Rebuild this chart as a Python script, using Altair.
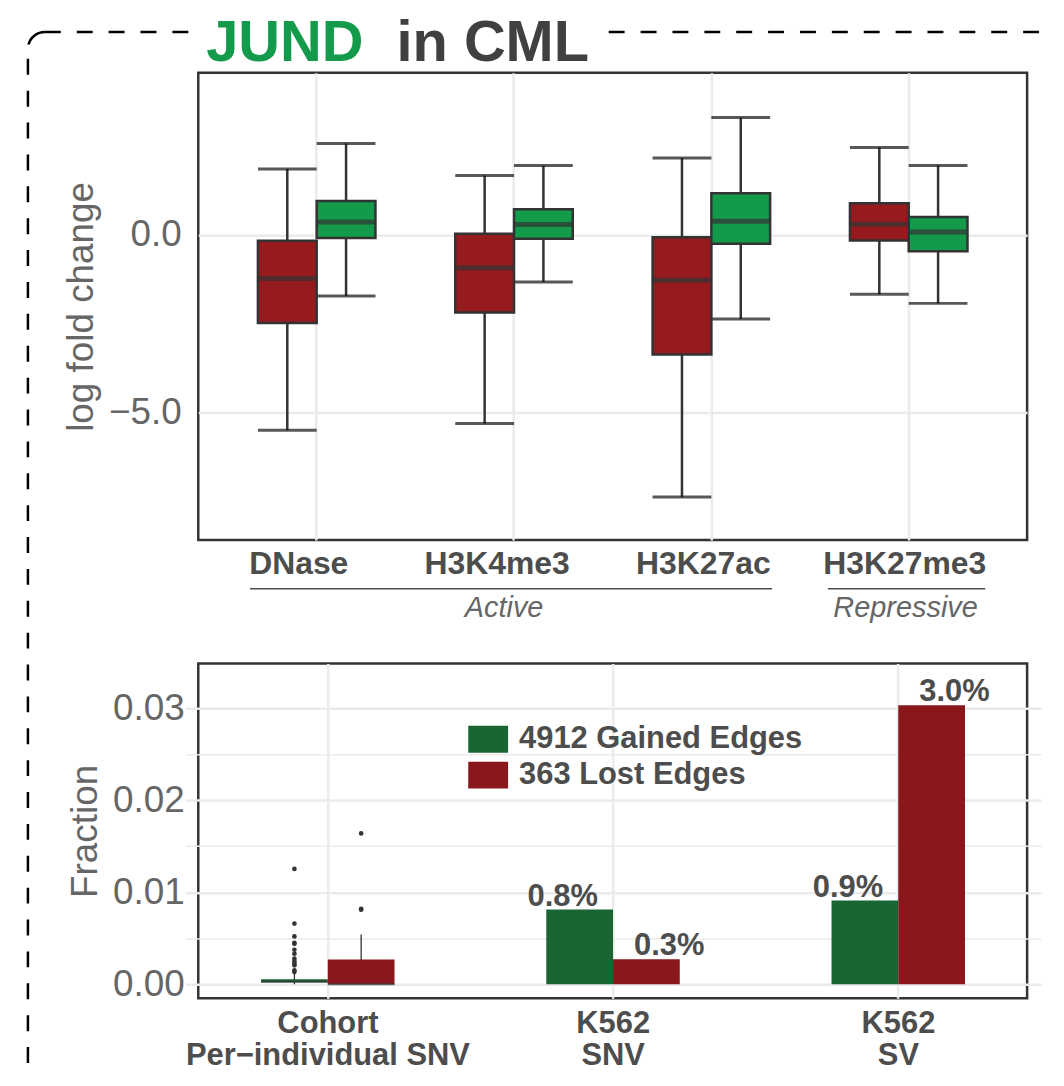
import altair as alt
import pandas as pd

FONT = "Liberation Sans"

# ---------------- top panel: box statistics ----------------
top_marks = ["DNase", "H3K4me3", "H3K27ac", "H3K27me3"]
top_groups = ["Lost", "Gained"]
lost_low = [-5.50, -5.31, -7.38, -1.67]
lost_q1 = [-2.48, -2.19, -3.37, -0.16]
lost_med = [-1.23, -0.93, -1.28, 0.30]
lost_q3 = [-0.17, 0.03, -0.07, 0.89]
lost_high = [1.85, 1.67, 2.16, 2.46]
gained_low = [-1.72, -1.33, -2.37, -1.93]
gained_q1 = [-0.09, -0.11, -0.25, -0.46]
gained_med = [0.36, 0.29, 0.38, 0.08]
gained_q3 = [0.95, 0.72, 1.17, 0.50]
gained_high = [2.57, 1.95, 3.30, 1.95]
top_y_ticks = [-5.0, 0.0]
top_y_domain = [-8.59, 4.56]
mark_groups = ["Active", "Repressive"]
title_parts = ["JUND", "in CML"]

# ---------------- bottom panel ----------------
bottom_cats = ["Cohort|Per\u2212individual SNV", "K562|SNV", "K562|SV"]
series = ["4912 Gained Edges", "363 Lost Edges"]
k562_cats = ["K562|SNV", "K562|SV"]
k562_gained = [0.00812, 0.0091]
k562_lost = [0.00271, 0.03033]
# low, q1, median, q3, high
cohort_gained_box = [0.0, 0.00018, 0.0003, 0.00054, 0.0012]
cohort_lost_box = [0.0, 0.0, 0.0, 0.0027, 0.0054]
cohort_gained_outliers = [0.01254, 0.0066, 0.0052, 0.00451, 0.0044, 0.00375, 0.00332,
                          0.00278, 0.00249, 0.00224, 0.00206, 0.00152, 0.00133]
cohort_lost_outliers = [0.0164, 0.0082, 0.0081]
bottom_y_ticks = [0.0, 0.005, 0.01, 0.015, 0.02, 0.025, 0.03]
bottom_y_domain = [-0.00152, 0.03487]

TOP_RED, TOP_GREEN = "#951b1f", "#139a4a"
BOT_GREEN, BOT_RED = "#196533", "#8a171b"
W, HT, HB = 832, 469, 336

# ---------------- tables ----------------
rows = []
for i, m in enumerate(top_marks):
    rows.append(dict(mark=m, grp="Lost", low=lost_low[i], q1=lost_q1[i], med=lost_med[i],
                     q3=lost_q3[i], high=lost_high[i]))
    rows.append(dict(mark=m, grp="Gained", low=gained_low[i], q1=gained_q1[i], med=gained_med[i],
                     q3=gained_q3[i], high=gained_high[i]))
top_df = pd.DataFrame(rows)

top_label_shift = {"condition": [{"test": "datum.value == 'DNase'", "value": -18},
                                 {"test": "datum.value == 'H3K4me3'", "value": -17},
                                 {"test": "datum.value == 'H3K27ac'", "value": -8}],
                   "value": -4}


def xt():
    return alt.X("mark:N", title=None,
                 scale=alt.Scale(domain=top_marks, paddingInner=0, paddingOuter=0.1),
                 axis=alt.Axis(labelFont=FONT, labelFontSize=32, labelFontWeight="bold",
                               labelColor="#4d4d4d", labelPadding=9, labelAngle=0,
                               labelOffset=top_label_shift,
                               grid=True, bandPosition=0.5))


def xot():
    return alt.XOffset("grp:N", scale=alt.Scale(domain=top_groups, paddingInner=0, paddingOuter=0.679))


def yt(field):
    return alt.Y(field, type="quantitative", title="log fold change",
                 scale=alt.Scale(domain=top_y_domain, nice=False, zero=False),
                 axis=alt.Axis(values=top_y_ticks, format=".1f", labelFontSize=37,
                               labelColor="#666666", titleFontSize=37, titleColor="#666666",
                               titleFontWeight="normal", labelPadding=17, titlePadding=8,
                               grid=True))


tb = alt.Chart(top_df)
whisk = tb.mark_rule(color="#333333", strokeWidth=2.5).encode(
    x=xt(), xOffset=xot(), y=yt("low"), y2="high:Q")
cap_lo = tb.mark_tick(color="#111111", size=59, thickness=3).encode(
    x=xt(), xOffset=xot(), y=yt("low"))
cap_hi = tb.mark_tick(color="#111111", size=59, thickness=3).encode(
    x=xt(), xOffset=xot(), y=yt("high"))
box = tb.mark_bar(stroke="#333333", strokeWidth=2.5).encode(
    x=xt(), xOffset=xot(), y=yt("q1"), y2="q3:Q",
    color=alt.Color("grp:N", scale=alt.Scale(domain=top_groups, range=[TOP_RED, TOP_GREEN]),
                    legend=None))
med = tb.mark_tick(color="#333333", size=59, thickness=5).encode(
    x=xt(), xOffset=xot(), y=yt("med"))

one = alt.Chart(pd.DataFrame({"k": [0]}))
dash = dict(color="black", strokeWidth=2.5, strokeDash=[16, 16])
t1 = one.mark_text(text=title_parts[0], font=FONT, fontSize=58, fontWeight="bold",
                   color="#139a4a", align="left", baseline="alphabetic").encode(
    x=alt.value(8), y=alt.value(-12))
t2 = one.mark_text(text=title_parts[1], font=FONT, fontSize=58, fontWeight="bold",
                   color="#404040", align="left", baseline="alphabetic").encode(
    x=alt.value(199), y=alt.value(-12))
d_top_l = one.mark_rule(**dash).encode(x=alt.value(-154), x2=alt.value(-9), y=alt.value(-41))
d_top_r = one.mark_rule(**dash).encode(x=alt.value(412), x2=alt.value(855), y=alt.value(-41))
d_left = one.mark_rule(**dash).encode(x=alt.value(-171), y=alt.value(-14), y2=alt.value(1000))
d_arc = one.mark_arc(radius=17, radius2=17, theta=6.2832, theta2=4.7124, fillOpacity=0,
                     stroke="black", strokeWidth=2.5, strokeDash=[22, 100]).encode(
    x=alt.value(-154), y=alt.value(-24))
u_act = one.mark_rule(color="#4d4d4d", strokeWidth=1.5).encode(
    x=alt.value(52), x2=alt.value(576), y=alt.value(518))
u_rep = one.mark_rule(color="#4d4d4d", strokeWidth=1.5).encode(
    x=alt.value(632), x2=alt.value(790), y=alt.value(518))
g_act = one.mark_text(text=mark_groups[0], font=FONT, fontSize=29, fontStyle="italic",
                      color="#666666", align="center", baseline="alphabetic").encode(
    x=alt.value(307), y=alt.value(546))
g_rep = one.mark_text(text=mark_groups[1], font=FONT, fontSize=29, fontStyle="italic",
                      color="#666666", align="center", baseline="alphabetic").encode(
    x=alt.value(710), y=alt.value(546))

top = alt.layer(whisk, cap_lo, cap_hi, box, med, t1, t2, d_top_l, d_top_r, d_left, d_arc,
                u_act, u_rep, g_act, g_rep).properties(width=W, height=HT)

# ---------------- bottom chart ----------------
bar_df = pd.DataFrame({"cat": k562_cats + k562_cats,
                       "series": [series[0]] * 2 + [series[1]] * 2,
                       "value": k562_gained + k562_lost})
box_df = pd.DataFrame({"cat": [bottom_cats[0]] * 2, "series": series,
                       "low": [cohort_gained_box[0], cohort_lost_box[0]],
                       "q1": [cohort_gained_box[1], cohort_lost_box[1]],
                       "med": [cohort_gained_box[2], cohort_lost_box[2]],
                       "q3": [cohort_gained_box[3], cohort_lost_box[3]],
                       "high": [cohort_gained_box[4], cohort_lost_box[4]]})
out_df = pd.DataFrame({"cat": [bottom_cats[0]] * (len(cohort_gained_outliers) + len(cohort_lost_outliers)),
                       "series": [series[0]] * len(cohort_gained_outliers) + [series[1]] * len(cohort_lost_outliers),
                       "value": cohort_gained_outliers + cohort_lost_outliers})

major = "abs(datum.value*100 - round(datum.value*100)) < 0.001"


def xb():
    return alt.X("cat:N", title=None,
                 scale=alt.Scale(domain=bottom_cats, range=[-13, 846], paddingInner=0, paddingOuter=0),
                 axis=alt.Axis(labelExpr="split(datum.label, '|')", labelFont=FONT, labelFontSize=31,
                               labelFontWeight="bold", labelColor="#4d4d4d", labelLineHeight=33,
                               labelPadding=10, labelLimit=600, labelAngle=0, grid=True,
                               bandPosition=0.5))


def xob():
    return alt.XOffset("series:N", scale=alt.Scale(domain=series, range=[76, 210]))


def yb(field):
    return alt.Y(field, type="quantitative", title="Fraction",
                 scale=alt.Scale(domain=bottom_y_domain, nice=False, zero=False),
                 axis=alt.Axis(values=bottom_y_ticks,
                               labelExpr=major + " ? format(datum.value, '.2f') : ''",
                               gridWidth={"condition": {"test": major, "value": 2.5}, "value": 1.5},
                               labelFontSize=37, labelColor="#666666", titleFontSize=37,
                               titleColor="#666666", titleFontWeight="normal", labelPadding=14,
                               titlePadding=8, grid=True))


cscale = alt.Scale(domain=series, range=[BOT_GREEN, BOT_RED])
bars = alt.Chart(bar_df).mark_bar().encode(
    x=xb(), xOffset=xob(), y=yb("value"), y2=alt.datum(0),
    color=alt.Color("series:N", scale=cscale,
                    legend=alt.Legend(title=None, orient="none", legendX=271, legendY=56,
                                      symbolType="M-1,-0.675H1V0.675H-1Z", symbolSize=1600,
                                      symbolStrokeWidth=0, symbolOpacity=1, labelFont=FONT,
                                      labelFontSize=31, labelFontWeight="bold",
                                      labelColor="#4d4d4d", labelOffset=11, rowPadding=1,
                                      padding=0, labelLimit=600)))
lab_style = dict(font=FONT, fontSize=31, fontWeight="bold", color="#4d4d4d",
                 baseline="alphabetic", dy=-4)
lab_g = alt.Chart(bar_df).mark_text(dx=-17, **lab_style).encode(
    x=xb(), xOffset=xob(), y=yb("value"), text=alt.Text("value:Q", format=".1%")
).transform_filter(alt.datum.series == series[0])
lab_l = alt.Chart(bar_df).mark_text(dx=23, **lab_style).encode(
    x=xb(), xOffset=xob(), y=yb("value"), text=alt.Text("value:Q", format=".1%")
).transform_filter(alt.datum.series == series[1])

cb = alt.Chart(box_df)
c_wh = cb.mark_rule(color="#333333", strokeWidth=1.3).encode(
    x=xb(), xOffset=xob(), y=yb("low"), y2="high:Q")
c_box = cb.mark_bar().encode(
    x=xb(), xOffset=xob(), y=yb("q1"), y2="q3:Q",
    color=alt.Color("series:N", scale=cscale, legend=None))
c_med = cb.mark_tick(color="#333333", size=67, thickness=2).encode(
    x=xb(), xOffset=xob(), y=yb("med"))
c_out = alt.Chart(out_df).mark_circle(color="#333333", size=22, opacity=1).encode(
    x=xb(), xOffset=xob(), y=yb("value"))

bottom = alt.layer(bars, c_wh, c_box, c_med, c_out, lab_g, lab_l).properties(width=W, height=HB)

chart = alt.vconcat(top, bottom, spacing=124, bounds="flush").resolve_scale(
    color="independent", xOffset="independent"
).properties(
    padding={"left": 13, "top": 3, "right": 0, "bottom": 0}
).configure_view(stroke="#333333", strokeWidth=2.5).configure_axis(
    domain=False, ticks=False, gridColor="#ebebeb", gridWidth=2.5, labelFont=FONT, titleFont=FONT
)

chart.save("out.html", embed_options={"renderer": "svg", "actions": False})
